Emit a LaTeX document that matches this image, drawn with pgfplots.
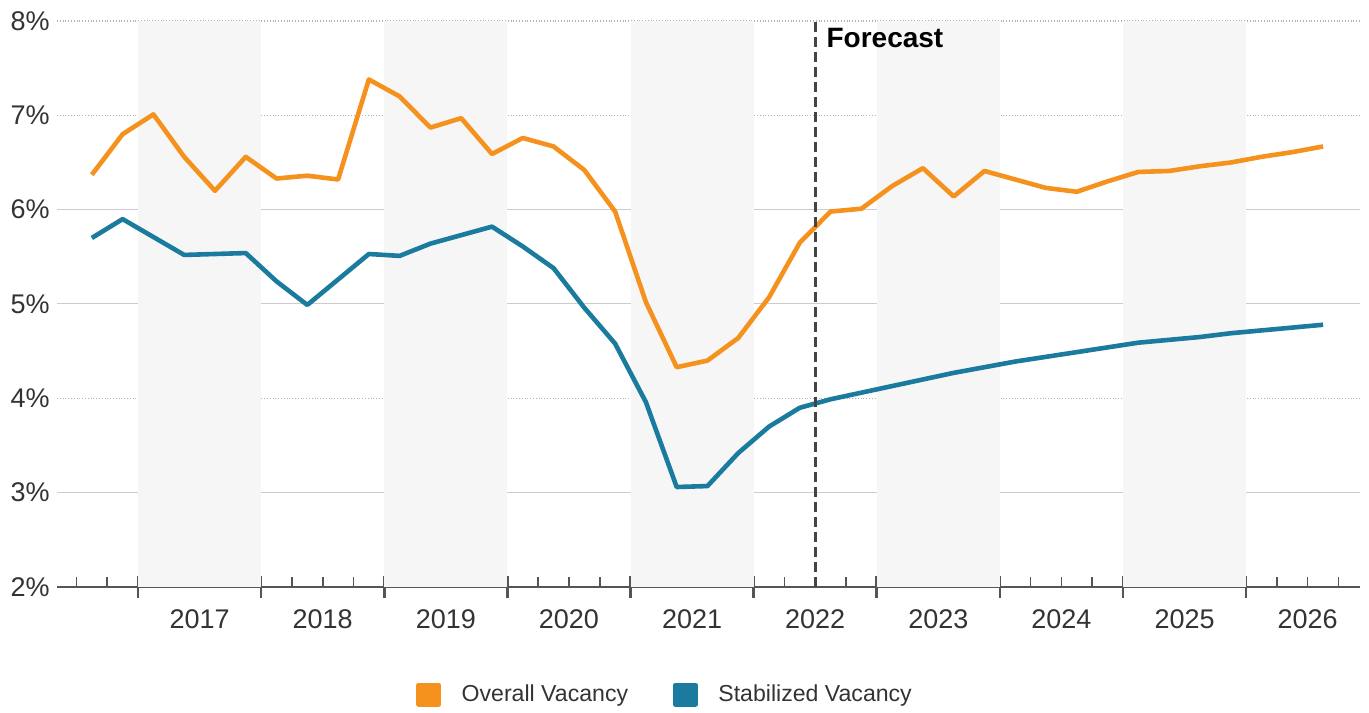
\documentclass[border=0pt]{standalone}
\usepackage{fontspec}
\setmainfont{Liberation Sans}
\usepackage{pgfplots}
\pgfplotsset{compat=1.18}
\definecolor{ov}{HTML}{F5921E}
\definecolor{st}{HTML}{1A7B9E}
\definecolor{band}{HTML}{F6F6F6}
\definecolor{axgray}{HTML}{555555}
\definecolor{txt}{HTML}{333333}
\definecolor{fc}{HTML}{444444}

\pgfplotstableread{
x overall stabilized
-1.5 6.37 5.70
-0.5 6.80 5.90
0.5 7.01 5.71
1.5 6.56 5.52
2.5 6.20 5.53
3.5 6.56 5.54
4.5 6.33 5.24
5.5 6.36 4.99
6.5 6.32 5.26
7.5 7.38 5.53
8.5 7.20 5.51
9.5 6.87 5.64
10.5 6.97 5.73
11.5 6.59 5.82
12.5 6.76 5.61
13.5 6.67 5.38
14.5 6.42 4.96
15.5 5.98 4.58
16.5 5.02 3.96
17.5 4.33 3.06
18.5 4.40 3.07
19.5 4.64 3.42
20.5 5.07 3.70
21.5 5.65 3.90
22.5 5.98 3.99
23.5 6.01 4.06
24.5 6.25 4.13
25.5 6.44 4.20
26.5 6.14 4.27
27.5 6.41 4.33
28.5 6.32 4.39
29.5 6.23 4.44
30.5 6.19 4.49
31.5 6.30 4.54
32.5 6.40 4.59
33.5 6.41 4.62
34.5 6.46 4.65
35.5 6.50 4.69
36.5 6.56 4.72
37.5 6.61 4.75
38.5 6.67 4.78
}\vacancy

\begin{document}
\begin{tikzpicture}
\begin{axis}[
  set layers,
  at={(0,0)}, anchor=south west,
  scale only axis, width=651.5pt, height=283pt,
  xmin=-2.632, xmax=39.70, ymin=2, ymax=8,
  axis x line*=bottom, axis y line*=left,
  x axis line style={-, draw=axgray, line width=1.4pt},
  y axis line style={draw=none},
  xtick={0,4,...,36},
  xticklabels={2017,2018,2019,2020,2021,2022,2023,2024,2025,2026},
  minor xtick={-2,-1,1,2,3,5,6,7,9,10,11,13,14,15,17,18,19,21,22,23,25,26,27,29,30,31,33,34,35,37,38,39},
  tick align=inside,
  major tick length=11pt,
  minor tick length=5pt,
  major tick style={draw=axgray, line width=1.3pt, yshift=-5.5pt},
  minor tick style={draw=axgray, line width=0.8pt},
  ytick={2,4,7,8},
  yticklabels={2\%,4\%,7\%,8\%},
  extra y ticks={3,5,6},
  extra y tick labels={3\%,5\%,6\%},
  ytick style={draw=none},
  extra y tick style={ymajorgrids=true, major grid style={solid, line width=0.5pt, draw=black!20}, tick style={draw=none}},
  ymajorgrids=true,
  major grid style={densely dotted, line width=0.6pt, draw=black!30},
  yticklabel style={font=\fontsize{13.5}{15}\selectfont, text=txt, anchor=east, inner sep=0pt, xshift=-3.5pt},
  xticklabel style={font=\fontsize{13.5}{15}\selectfont, text=txt, anchor=base, inner sep=0pt, xshift=30.78pt, yshift=-20.5pt},
  legend columns=2,
  legend style={draw=none, fill=none, at={(0.4675,-0.1903)}, anchor=center,
    font=\fontsize{11.55}{13}\selectfont, text=txt,
    /tikz/every odd column/.append style={column sep=8.3pt},
    /tikz/every even column/.append style={column sep=20.5pt}},
  legend image code/.code={\fill (0pt,-4.8pt) rectangle (10pt,4.8pt);},
]
\fill[band, on layer=axis background] (axis cs:0,2) rectangle (axis cs:4,8);
\fill[band, on layer=axis background] (axis cs:8,2) rectangle (axis cs:12,8);
\fill[band, on layer=axis background] (axis cs:16,2) rectangle (axis cs:20,8);
\fill[band, on layer=axis background] (axis cs:24,2) rectangle (axis cs:28,8);
\fill[band, on layer=axis background] (axis cs:32,2) rectangle (axis cs:36,8);
\addplot[ov, line width=2.3pt, line join=round] table[x=x, y=overall] {\vacancy};
\addlegendentry{Overall Vacancy}
\addplot[st, line width=2.3pt, line join=round] table[x=x, y=stabilized] {\vacancy};
\addlegendentry{Stabilized Vacancy}
\addplot[fc, line width=1.5pt, dash pattern=on 5pt off 2.5pt, forget plot] coordinates {(22,2) (22,8)};
\node[anchor=base west, inner sep=0pt, font=\bfseries\fontsize{14}{16}\selectfont, xshift=5.5pt, yshift=-13.5pt] at (axis cs:22,8) {Forecast};
\end{axis}
\path (-28.5pt,-62pt) rectangle (656pt,293.5pt);
\end{tikzpicture}
\end{document}
